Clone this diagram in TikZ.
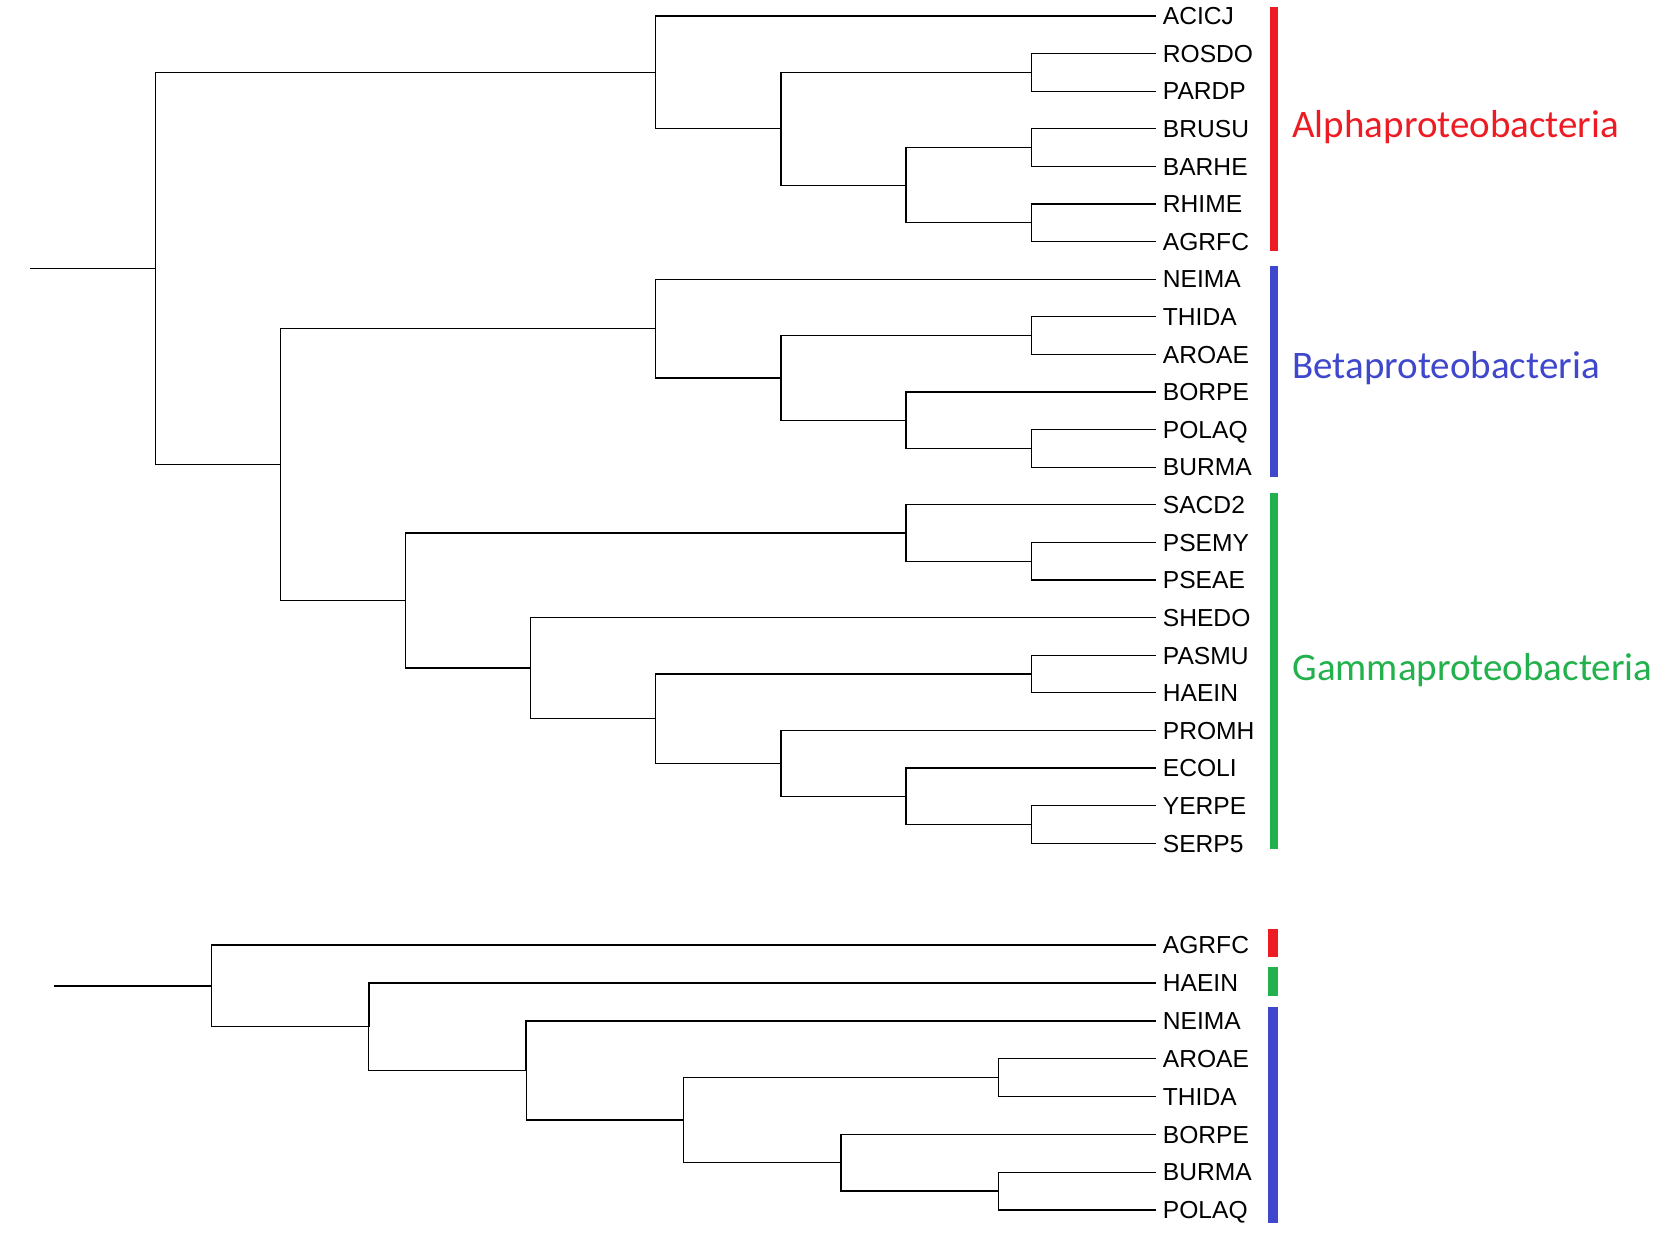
\documentclass[tikz,border=0pt]{standalone}
\usepackage{fontspec}
\setmainfont{Liberation Sans}
\newfontfamily\grpfont{Carlito}
\definecolor{alphared}{RGB}{237,28,36}
\definecolor{betablue}{RGB}{63,72,204}
\definecolor{gammagreen}{RGB}{34,177,76}
\begin{document}
\begin{tikzpicture}[x=0.5pt,y=-0.5pt,
  branch/.style={line width=0.65pt,black},
  leaflabel/.style={anchor=west,inner sep=0pt,font=\fontsize{12.3}{14}\selectfont,text height=8.8pt,text depth=0pt},
  grouplabel/.style={anchor=base west,inner sep=0pt,font=\grpfont\fontsize{19.5}{23}\selectfont},
]
\useasboundingbox (0,0) rectangle (1665,1245);

% ---------- top tree: leaves ----------
\foreach \n [count=\i from 0] in {ACICJ,ROSDO,PARDP,BRUSU,BARHE,RHIME,AGRFC,NEIMA,THIDA,AROAE,BORPE,POLAQ,BURMA,SACD2,PSEMY,PSEAE,SHEDO,PASMU,HAEIN,PROMH,ECOLI,YERPE,SERP5}{
  \coordinate (\n) at (1156,{16+37.6*\i});
  \node[leaflabel] (t-\n) at (1162.5,{16+37.6*\i}) {\n};
}
% ---------- top tree: internal nodes ----------
\coordinate (A3) at (1031.3,72.4);
\coordinate (A5) at (1031.3,147.6);
\coordinate (A6) at (1031.3,222.8);
\coordinate (A4) at (906.1,185.2);
\coordinate (A2) at (781,128.8);
\coordinate (A1) at (655.8,72.4);
\coordinate (B3) at (1031.3,335.6);
\coordinate (B5) at (1031.3,448.4);
\coordinate (B4) at (906.1,420.2);
\coordinate (B2) at (781,377.9);
\coordinate (B1) at (655.8,328.55);
\coordinate (G3) at (1031.3,561.2);
\coordinate (G1) at (906.1,533);
\coordinate (G5) at (1031.3,674);
\coordinate (G8) at (1031.3,824.4);
\coordinate (G7) at (906.1,796.2);
\coordinate (G6) at (781,763.3);
\coordinate (G4) at (655.8,718.65);
\coordinate (G2) at (530.7,668.125);
\coordinate (G0) at (405.5,600.56);
\coordinate (BG) at (280.4,464.56);
\coordinate (R)  at (155.2,268.48);
\coordinate (RT) at (30,268.48);

\draw[branch] (RT) -- (R);
\draw[branch] (R) |- (A1);  \draw[branch] (R) |- (BG);
\draw[branch] (A1) |- (ACICJ); \draw[branch] (A1) |- (A2);
\draw[branch] (A2) |- (A3); \draw[branch] (A2) |- (A4);
\draw[branch] (A3) |- (ROSDO); \draw[branch] (A3) |- (PARDP);
\draw[branch] (A4) |- (A5); \draw[branch] (A4) |- (A6);
\draw[branch] (A5) |- (BRUSU); \draw[branch] (A5) |- (BARHE);
\draw[branch] (A6) |- (RHIME); \draw[branch] (A6) |- (AGRFC);
\draw[branch] (BG) |- (B1); \draw[branch] (BG) |- (G0);
\draw[branch] (B1) |- (NEIMA); \draw[branch] (B1) |- (B2);
\draw[branch] (B2) |- (B3); \draw[branch] (B2) |- (B4);
\draw[branch] (B3) |- (THIDA); \draw[branch] (B3) |- (AROAE);
\draw[branch] (B4) |- (BORPE); \draw[branch] (B4) |- (B5);
\draw[branch] (B5) |- (POLAQ); \draw[branch] (B5) |- (BURMA);
\draw[branch] (G0) |- (G1); \draw[branch] (G0) |- (G2);
\draw[branch] (G1) |- (SACD2); \draw[branch] (G1) |- (G3);
\draw[branch] (G3) |- (PSEMY); \draw[branch] (G3) |- (PSEAE);
\draw[branch] (G2) |- (SHEDO); \draw[branch] (G2) |- (G4);
\draw[branch] (G4) |- (G5); \draw[branch] (G4) |- (G6);
\draw[branch] (G5) |- (PASMU); \draw[branch] (G5) |- (HAEIN);
\draw[branch] (G6) |- (PROMH); \draw[branch] (G6) |- (G7);
\draw[branch] (G7) |- (ECOLI); \draw[branch] (G7) |- (G8);
\draw[branch] (G8) |- (YERPE); \draw[branch] (G8) |- (SERP5);

% group bars and labels (top)
\fill[alphared] (1270,7) rectangle (1277.7,251);
\fill[betablue] (1270,266) rectangle (1277.7,477);
\fill[gammagreen] (1270,493) rectangle (1277.7,849);
\node[grouplabel,text=alphared] (alpha) at (1292,137.3) {Alphaproteobacteria};
\node[grouplabel,text=betablue] (beta) at (1292,378.3) {Betaproteobacteria};
\node[grouplabel,text=gammagreen] (gamma) at (1292,680) {Gammaproteobacteria};

% ---------- bottom tree ----------
\foreach \n [count=\i from 0] in {AGRFC,HAEIN,NEIMA,AROAE,THIDA,BORPE,BURMA,POLAQ}{
  \coordinate (b-\n) at (1156,{945+37.86*\i});
  \node[leaflabel] (bt-\n) at (1162.5,{945+37.86*\i}) {\n};
}
\coordinate (N7) at (998.4,1191.09);
\coordinate (N6) at (841,1162.7);
\coordinate (N5) at (998.4,1077.51);
\coordinate (N4) at (683.6,1120.1);
\coordinate (N3) at (526.2,1070.4);
\coordinate (N2) at (368.8,1026.6);
\coordinate (N1) at (211.4,985.8);
\coordinate (NT) at (54,985.8);

\draw[branch,line width=1.1pt] (NT) -- (N1);
\draw[branch] (N1) |- (b-AGRFC); \draw[branch] (N1) |- (N2);
\draw[branch,line width=0.9pt] (N2) |- (b-HAEIN); \draw[branch] (N2) |- (N3);
\draw[branch,line width=0.8pt] (N3) |- (b-NEIMA); \draw[branch] (N3) |- (N4);
\draw[branch] (N4) |- (N5); \draw[branch] (N4) |- (N6);
\draw[branch] (N5) |- (b-AROAE); \draw[branch] (N5) |- (b-THIDA);
\draw[branch] (N6) |- (b-BORPE); \draw[branch] (N6) |- (N7);
\draw[branch] (N7) |- (b-BURMA); \draw[branch] (N7) |- (b-POLAQ);

\fill[alphared] (1268,929) rectangle (1277.5,957);
\fill[gammagreen] (1268,967) rectangle (1277.5,996);
\fill[betablue] (1268,1007) rectangle (1277.5,1223);
\end{tikzpicture}
\end{document}
